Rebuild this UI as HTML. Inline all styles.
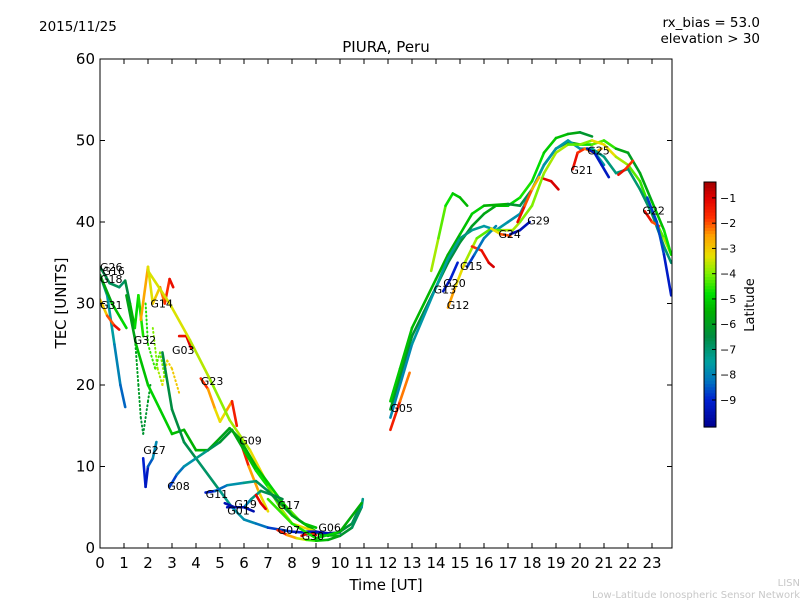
<!DOCTYPE html>
<html><head><meta charset="utf-8"><style>
body{margin:0;background:#fff;width:800px;height:600px;overflow:hidden}
svg{font-family:"DejaVu Sans","Liberation Sans",sans-serif}
</style></head><body>
<svg id="c" width="800" height="600" xmlns="http://www.w3.org/2000/svg">
<text x="39" y="31" font-size="13.5">2015/11/25</text>
<text x="760" y="27" font-size="13.5" text-anchor="end">rx_bias = 53.0</text>
<text x="760" y="43" font-size="13.5" text-anchor="end">elevation &gt; 30</text>
<text x="386" y="52" font-size="15" text-anchor="middle">PIURA, Peru</text>
<text x="386" y="590" font-size="15" text-anchor="middle">Time [UT]</text>
<text x="66" y="303" font-size="15" text-anchor="middle" transform="rotate(-90 66 303)">TEC [UNITS]</text>
<text x="754" y="305" font-size="13" text-anchor="middle" transform="rotate(-90 754 305)">Latitude</text>
<text x="800" y="586" font-size="10" fill="#c8c8c8" text-anchor="end">LISN</text>
<text x="800" y="598" font-size="10" fill="#c8c8c8" text-anchor="end">Low-Latitude Ionospheric Sensor Network</text>
<g id="tracks"></g>
<g id="axes"></g>
</svg>
<script>
const xTicks=[0,1,2,3,4,5,6,7,8,9,10,11,12,13,14,15,16,17,18,19,20,21,22,23];
const yTicks=[0,10,20,30,40,50,60];
const cbTicks=[-1,-2,-3,-4,-5,-6,-7,-8,-9];
const trackNames=["G18","G31","G26","G16","G14","G32","","G27","G03","","G23","","G09","","","G08","G11","G19","G01","G17","G07","G30","G06","","G05","","","","G13","G12","","G15","G24","","G29","","G21","G25","","G22","","","","G20"];
const trackDotted=[0,0,0,0,0,1,1,0,0,1,0,0,0,0,0,0,0,0,0,0,0,0,0,0,0,0,0,0,0,0,0,0,0,0,0,0,0,0,0,0,0,0,0,0];
const trackTime=[
[0,0.3,0.6,0.85,1.05],
[0,0.3,0.6,0.8],
[0,0.4,0.8,1.05,1.25,1.45,1.6,1.8],
[0,0.5,0.9,1.1],
[1.7,2.0,2.2,2.5,2.7,2.9,3.05],
[1.45,1.6,1.7,1.8,2.0,2.1],
[2.2,2.4,2.6,2.8,3.0,3.3],
[1.8,1.9,2.0,2.2,2.35],
[3.3,3.6,3.8],
[1.9,2.0,2.3,2.5,2.7],
[4.2,4.5,4.8,5.0,5.3,5.5,5.7],
[2.0,2.9,3.75,4.6,5.4,6.25,6.9,7.5,8.3,9.2,10.0],
[5.8,6.2,6.6,7.0],
[1.1,1.5,2,2.5,3,3.5,4,4.5,5,5.4,5.8,6.5,7,7.5,8,8.5,9,9.5,10,10.5,10.9],
[2.6,3.0,3.5,4.0,5.0,5.5,6,6.5,7,8,9],
[2.9,3.2,3.5,4,4.5,5,5.5,6,6.5,7,7.5,8,9],
[4.4,4.8,5.3,6,6.5,7,7.5,8,8.5,9],
[5.2,5.6,6.0,6.3,6.7,7.2,7.6],
[5.3,6.0,6.4],
[6.5,6.7,6.9],
[7.4,7.8,8.2,8.6,9,9.5,10,10.5,10.9,10.95],
[8.4,8.7,9.0],
[8.6,9,9.5,10],
[7,8,9,10,10.9],
[12.1,12.5,12.9],
[12.1,12.5,13,13.5,14,14.5,15,15.5,16,16.5,17,17.5,18,18.5,19,19.5,20,20.5],
[12.1,12.5,13,14,14.5,15,15.5,16,17,17.5,18,18.5,19,19.5,20,20.5,21,21.5],
[12.1,13,14,14.5,15,15.5,16,16.5,17,17.5,18,18.5,19,19.5,20,20.5,21],
[14.3,14.6,14.9],
[14.5,14.8,15.2,15.7,16.2,16.8,17.2,17.5,18,18.5,19,19.5,20,20.5,21,21.5,22,22.5,23,23.5,23.8],
[15.5,15.9,16.2,16.4],
[15.3,15.6,16,16.5],
[16.3,16.7,17.1],
[17.1,17.5,17.9],
[17.4,17.7,18,18.3],
[18.5,18.8,19.1],
[19.7,19.9,20.2,20.6,20.9],
[20.3,20.6,20.9,21.2],
[20.5,21,21.5,22,22.5,23,23.5,23.8],
[22.7,23.0,23.3],
[22.8,23.2,23.5,23.8],
[21.5,22,22.5,23,23.5,23.8],
[21.6,21.9,22.2],
[13.8,14.1,14.4,14.7,15,15.3]];
const trackTec=[
[33.5,31,25,20,17.3],
[30.5,28.5,27.3,26.8],
[34.5,32.5,32,32.8,30,27,31,26],
[33.5,30,28,27],
[28,34.5,30,32,30,33,32],
[26,20,16,14,18,20],
[27,22,20,23,22,19],
[11,7.5,10,11,13],
[26,26,24.5],
[30,25,22,24,21],
[20.8,19.5,17,15.5,17,18,15],
[34,30,25.5,20.6,15.7,12,8.3,5.9,3.4,1.6,1.5],
[13.5,10,7,4.5],
[31,25,20,17,14,14.5,12,12,13.5,14.7,13.5,10,8,6,4,3,2,1.5,2,3,5.5],
[24,17,13,11,7,5,3.5,3,2.5,2,1.8],
[7.5,9,10,11,12,13,14.5,12,9.5,7.5,5,3,2],
[6.8,7,7.7,8,8.2,7,5.5,4,3,2.5],
[5.5,5,5,6,7,6.5,6],
[5,5,4.5],
[6.5,5.5,4.8],
[2.2,1.6,1.2,1,0.9,1,1.5,2.5,5,6],
[1.5,1.8,1.6],
[2,2,1.8,1.9],
[6,3,1.2,2,5.5],
[14.5,18,21.5],
[17,21,26,29,32,35,37.5,39.5,41,42,42,43,45,48.5,50.3,50.8,51,50.5],
[18,22,27,33,36,38.5,41,42,42.2,42,44,47,49,49.8,49.5,49.5,50,49],
[16,25,32,35.5,38,39,39.5,39,40,41,44,47,49,50,49,49,47],
[31.5,33,35],
[29.5,32,35,38,39,39,39,40,42,46,48.5,49.5,49.5,50,49.5,48,47,45,41,38,36],
[37,36.5,35,34.5],
[34.5,36,38,39.5],
[39.2,38.5,38.3],
[38.5,39,40],
[40,42,44,45.5],
[45.3,45,44],
[46.5,48.5,49,48.5,49],
[49,48.5,47,45.5],
[49,48,46,46.5,44,41,37,35],
[41.3,40,39.5],
[43,40,36,31],
[49,48.5,46,42.5,39,36],
[45.8,46.5,47.5],
[34,38,42,43.5,43,42]];
const trackLat=[
[-7,-7.3,-7.8,-8.2,-8.6],
[-3.5,-2.5,-1.5,-1],
[-6.5,-6.7,-6.8,-7,-6,-5,-4.8,-4.5],
[-6,-5.5,-5,-4.8],
[-2,-3.2,-3.5,-2.5,-2,-1.5,-1],
[-6,-6,-6.2,-6.5,-6,-6],
[-4,-4,-3.5,-3.2,-3,-3],
[-8.5,-9.5,-9,-8,-7.8],
[-1.5,-1,-1],
[-4.8,-4.5,-4.5,-4.2,-4],
[-1.5,-2,-3,-3.5,-3,-2,-1],
[-3.5,-3.3,-3.5,-3.8,-4,-3.5,-3,-4,-4.5,-5,-5.5],
[-1,-2,-3,-3.5],
[-6.2,-5.5,-5,-5,-5.2,-5.5,-5.5,-5.5,-5.8,-6,-5.8,-5.5,-5,-5,-5.2,-5.5,-5.8,-6,-6.2,-6.5,-7],
[-6.5,-6.5,-6.5,-6.8,-7,-7.5,-7.8,-8,-8.5,-9,-9.3],
[-9,-8.5,-8,-7.5,-7,-6.5,-6,-5.5,-5,-4.5,-4,-3.5,-3],
[-9.3,-8.7,-8,-7.5,-7,-6.5,-6,-6,-5.5,-5],
[-9.5,-9.5,-8.5,-7.5,-6.8,-6.5,-6.5],
[-9.5,-9.5,-9.6],
[-1.2,-1,-1],
[-1,-2,-3,-4,-5,-5.5,-6,-6.5,-7,-7.5],
[-1,-1.3,-1.5],
[-9,-9.5,-9.5,-9.8],
[-4.5,-4.5,-4.8,-5.2,-6],
[-1,-2,-2.5],
[-6,-6,-6.3,-6.5,-6.5,-6.5,-6.5,-6,-6,-5.5,-5,-4.8,-4.5,-5.2,-5,-5.5,-6,-6.5],
[-5,-5.2,-5.3,-5.5,-5.5,-5.5,-5,-5,-6,-6.5,-6.8,-6.8,-6.8,-6.5,-5,-4.5,-4,-5],
[-8,-7.8,-7.5,-7.5,-7.3,-7,-7.8,-7.5,-7.8,-7.8,-7.5,-7.6,-7.8,-7.5,-7.6,-7.8,-7.5],
[-9.5,-9,-9],
[-2,-3,-3.5,-4,-4.5,-4,-3.5,-4,-4,-4,-3.5,-4,-4.5,-3.5,-3,-3.5,-4,-4.5,-4.5,-4,-3.5],
[-2,-1.5,-1,-0.8],
[-9,-8.5,-8,-7.8],
[-4,-2.5,-1.5],
[-9.5,-9.5,-9.3],
[-1,-1.5,-2.5,-3],
[-1.2,-1,-0.8],
[-1,-1.5,-2,-2.5,-3],
[-9.5,-9.5,-9,-9.5],
[-7.5,-7,-7.2,-7,-7,-6.8,-7,-7],
[-1,-1.5,-2.5],
[-9,-8.5,-8.8,-9.5],
[-5.5,-6,-6,-5.5,-5,-4.5],
[-1,-1.5,-2],
[-3.5,-4,-4.5,-5,-5.3,-5.5]];
const labelTime=[0,0,0,0.1,2.1,1.4,0,1.8,3.0,0,4.2,0,5.8,0,0,2.8,4.4,5.6,5.3,7.4,7.4,8.4,9.1,0,12.1,0,0,0,13.9,14.45,0,15.0,16.6,0,17.8,0,19.6,20.3,0,22.6,0,0,0,14.3];
const labelTec=[33,29.8,34.5,34,30,25.5,0,12,24.3,0,20.5,0,13.2,0,0,7.6,6.6,5.4,4.6,5.3,2.2,1.5,2.5,0,17.2,0,0,0,31.7,29.8,0,34.6,38.5,0,40.2,0,46.4,48.8,0,41.4,0,0,0,32.5];

const X0=100,X1=672,Y0=548,Y1=59;
const xs=h=>X0+h*24;
const ys=v=>Y0-(v/60)*(Y0-Y1);
const CB_TOP=182,CB_BOT=427,LMAX=-0.37,LMIN=-10.07;
const stops=[[-10.07,[0,0,144]],[-9,[0,32,208]],[-8.3,[0,112,192]],[-7.5,[0,160,160]],[-6.5,[0,140,64]],[-5.5,[0,176,0]],[-4.8,[0,224,0]],[-4.0,[128,240,0]],[-3.3,[232,224,0]],[-2.5,[255,160,0]],[-1.8,[255,48,0]],[-1.0,[224,0,0]],[-0.37,[160,0,0]]];
function latColor(l){
 if(l<=stops[0][0])return `rgb(${stops[0][1]})`;
 for(let k=0;k<stops.length-1;k++){const a=stops[k],b=stops[k+1];
  if(l<=b[0]){const f=(l-a[0])/(b[0]-a[0]);
   return 'rgb('+a[1].map((v,i)=>Math.round(v+(b[1][i]-v)*f)).join(',')+')';}}
 return `rgb(${stops[stops.length-1][1]})`;}
const NS="http://www.w3.org/2000/svg";
const mk=(t,a)=>{const e=document.createElementNS(NS,t);for(const k in a)e.setAttribute(k,a[k]);return e;};
const tg=document.getElementById('tracks'),ag=document.getElementById('axes');
const defs=mk('defs',{});const cp=mk('clipPath',{id:'pc'});cp.appendChild(mk('rect',{x:X0,y:Y1,width:X1-X0,height:Y0-Y1}));defs.appendChild(cp);document.getElementById('c').appendChild(defs);
tg.setAttribute('clip-path','url(#pc)');
for(let i=0;i<trackTime.length;i++){
 const g=mk('g',{});
 
 
 const T=trackTime[i],V=trackTec[i],L=trackLat[i];
 for(let j=0;j<T.length-1;j++){
  const ln=mk('line',{x1:xs(T[j]),y1:ys(V[j]),x2:xs(T[j+1]),y2:ys(V[j+1]),stroke:latColor((L[j]+L[j+1])/2),'stroke-width':trackDotted[i]?2:2.6,'stroke-linecap':'round'});
  if(trackDotted[i])ln.setAttribute('stroke-dasharray','1 3');
  
  
  g.appendChild(ln);
 }
 tg.appendChild(g);
}
for(let i=0;i<trackNames.length;i++){
 if(!trackNames[i])continue;
 const t=mk('text',{x:xs(labelTime[i]),y:ys(labelTec[i])+4,'font-size':11});
 t.textContent=trackNames[i];
 
 
 ag.appendChild(t);
}
const frame=mk('rect',{x:X0,y:Y1,width:X1-X0,height:Y0-Y1,fill:'none',stroke:'#000','stroke-width':1});


ag.appendChild(frame);
xTicks.forEach(h=>{const x=xs(h);
 ag.appendChild(mk('line',{x1:x,y1:Y0,x2:x,y2:Y0-5,stroke:'#000'}));
 ag.appendChild(mk('line',{x1:x,y1:Y1,x2:x,y2:Y1+5,stroke:'#000'}));
 const t=mk('text',{x:x,y:Y0+20,'font-size':15,'text-anchor':'middle'});t.textContent=h;
 
 
 ag.appendChild(t);});
yTicks.forEach(v=>{const y=ys(v);
 ag.appendChild(mk('line',{x1:X0,y1:y,x2:X0+5,y2:y,stroke:'#000'}));
 ag.appendChild(mk('line',{x1:X1,y1:y,x2:X1-5,y2:y,stroke:'#000'}));
 const t=mk('text',{x:X0-5,y:y+5,'font-size':15,'text-anchor':'end'});t.textContent=v;
 
 
 ag.appendChild(t);});
const cbg=mk('g',{});


const N=80;for(let k=0;k<N;k++){const y0=CB_TOP+(CB_BOT-CB_TOP)*k/N;
 cbg.appendChild(mk('rect',{x:704,y:y0,width:12,height:(CB_BOT-CB_TOP)/N+0.6,fill:latColor(LMAX-(k+0.5)/N*(LMAX-LMIN))}));}
cbg.appendChild(mk('rect',{x:704,y:CB_TOP,width:12,height:CB_BOT-CB_TOP,fill:'none',stroke:'#000'}));
cbTicks.forEach(l=>{const y=CB_TOP+(LMAX-l)/(LMAX-LMIN)*(CB_BOT-CB_TOP);
 cbg.appendChild(mk('line',{x1:712,y1:y,x2:716,y2:y,stroke:'#000'}));
 const t=mk('text',{x:720,y:y+4,'font-size':11});t.textContent='\u2212'+Math.abs(l);
 
 
 cbg.appendChild(t);});
ag.appendChild(cbg);
</script>
</body></html>
